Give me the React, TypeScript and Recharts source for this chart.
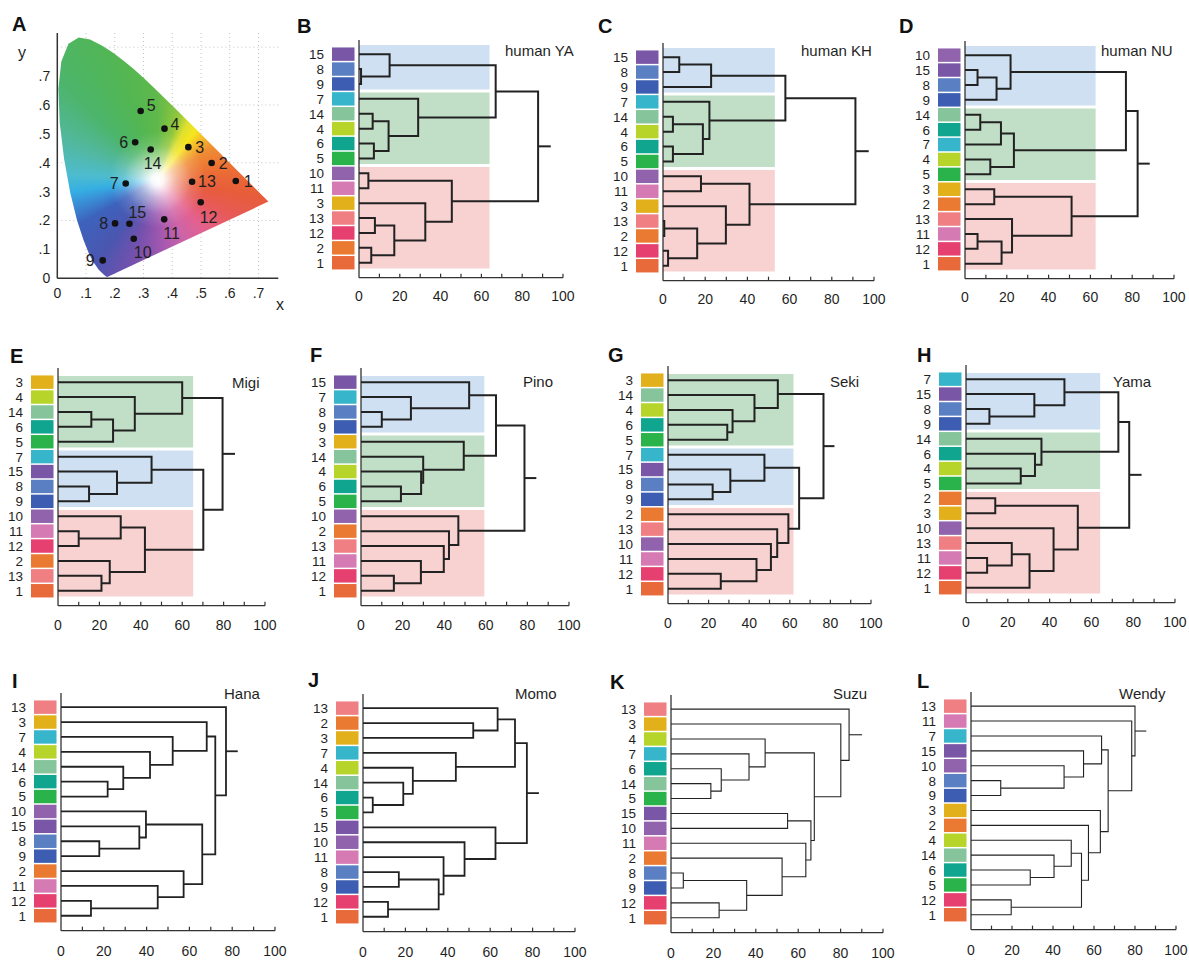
import React from "react";
import { ScatterChart, Scatter, XAxis, YAxis, CartesianGrid, ReferenceArea } from "recharts";

const FONT = "'Liberation Sans', Arial, Helvetica, sans-serif";
const INK = "#1f1f1f";

// stimuli 1..15: colour chips and CIE xy positions (panel A)
const stimIds = [1, 2, 3, 4, 5, 6, 7, 8, 9, 10, 11, 12, 13, 14, 15];
const stimColors = [
  "#e8693a", "#ea7a32", "#e2b01a", "#b7d42a", "#29b34a", "#10a58e", "#37b6cb", "#5a7fc3",
  "#3c5db1", "#9163ac", "#d57ab3", "#e5406f", "#ef7f82", "#86c59c", "#7a56a6",
];
const stimX = [0.621, 0.537, 0.456, 0.373, 0.29, 0.271, 0.238, 0.201, 0.158, 0.266, 0.372, 0.499, 0.469, 0.325, 0.251];
const stimY = [0.337, 0.399, 0.454, 0.518, 0.579, 0.471, 0.328, 0.19, 0.062, 0.137, 0.204, 0.263, 0.334, 0.446, 0.189];

// CIE 1931 spectral locus, 380-700 nm
const locusX = [
  0.1741, 0.1738, 0.1733, 0.1726, 0.1714, 0.1689, 0.1644, 0.1566, 0.144, 0.1241, 0.1096, 0.0913,
  0.0687, 0.0454, 0.0235, 0.0082, 0.0039, 0.0139, 0.0389, 0.0743, 0.1142, 0.1547, 0.1929, 0.2296,
  0.2658, 0.3016, 0.3373, 0.3731, 0.4087, 0.4441, 0.4788, 0.5125, 0.5448, 0.5752, 0.6029, 0.627,
  0.6482, 0.6658, 0.6801, 0.6915, 0.7006, 0.7079, 0.714, 0.719, 0.726, 0.73, 0.7347,
];
const locusY = [
  0.005, 0.0049, 0.0048, 0.0048, 0.0051, 0.0069, 0.0109, 0.0177, 0.0297, 0.0578, 0.0868, 0.1327,
  0.2007, 0.295, 0.4127, 0.5384, 0.6548, 0.7502, 0.812, 0.8338, 0.8262, 0.8059, 0.7816, 0.7543,
  0.7243, 0.6923, 0.6589, 0.6245, 0.5896, 0.5547, 0.5202, 0.4866, 0.4544, 0.4242, 0.3965, 0.3725,
  0.3514, 0.334, 0.3197, 0.3083, 0.2993, 0.292, 0.2859, 0.2809, 0.274, 0.27, 0.2653,
];
const whitePoint = { x: 0.35, y: 0.34 };

const chromaTicks = [0, 0.1, 0.2, 0.3, 0.4, 0.5, 0.6, 0.7];
const chromaGridH = [0.2, 0.4, 0.6, 0.8];
const distTicks = [0, 10, 20, 30, 40, 50, 60, 70, 80, 90, 100];

// dendrograms: leaf order top->bottom, merges [a, b, height] ("cN" = Nth merge), root stub end
type Node = number | string;
type Merge = [Node, Node, number];
type Band = [string, number, number];

const yaOrder = [15, 8, 9, 7, 14, 4, 6, 5, 10, 11, 3, 13, 12, 2, 1];
const yaMerges: Merge[] = [
  [8, 9, 1], [15, "c0", 15], [14, 4, 6.7], [6, 5, 7.3], ["c2", "c3", 14.5], [7, "c4", 29],
  ["c1", "c5", 67], [10, 11, 4.6], [13, 12, 7.8], [2, 1, 6], ["c8", "c9", 17.3], [3, "c10", 32.5],
  ["c7", "c11", 45.5], ["c6", "c12", 87.8],
];
const yaStub = 94;
const yaBands: Band[] = [["blue", 0, 2], ["green", 3, 7], ["red", 8, 14]];
const yaBandEnd = 64;

const khOrder = [15, 8, 9, 7, 14, 4, 6, 5, 10, 11, 3, 13, 2, 12, 1];
const khMerges: Merge[] = [
  [15, 8, 7.7], ["c0", 9, 22.8], [14, 4, 4.7], [6, 5, 4.7], ["c2", "c3", 18.9], [7, "c4", 22],
  ["c1", "c5", 58], [10, 11, 18], [13, 2, 0.6], [12, 1, 2.4], ["c8", "c9", 16.2], [3, "c10", 29.8],
  ["c7", "c11", 41], ["c6", "c12", 91.2],
];
const khStub = 97.5;
const khBands: Band[] = [["blue", 0, 2], ["green", 3, 7], ["red", 8, 14]];
const khBandEnd = 53;

const nuOrder = [10, 15, 8, 9, 14, 6, 7, 4, 5, 3, 2, 13, 11, 12, 1];
const nuMerges: Merge[] = [
  [15, 8, 6], ["c0", 9, 15.1], [10, "c1", 21.8], [14, 6, 7.3], ["c3", 7, 17.2], [4, 5, 12.1],
  ["c4", "c5", 23.4], ["c2", "c6", 77], [3, 2, 14], [11, 12, 6], ["c9", 1, 17.5], [13, "c10", 22.5],
  ["c8", "c11", 51], ["c7", "c12", 82.6],
];
const nuStub = 88.4;
const nuBands: Band[] = [["blue", 0, 3], ["green", 4, 8], ["red", 9, 14]];
const nuBandEnd = 62.5;

const migiOrder = [3, 4, 14, 6, 5, 7, 15, 8, 9, 10, 11, 12, 2, 13, 1];
const migiMerges: Merge[] = [
  [14, 6, 16.1], ["c0", 5, 26.6], [4, "c1", 37.1], [3, "c2", 60], [8, 9, 15], [15, "c4", 28.5],
  [7, "c5", 45.2], [11, 12, 10], [10, "c7", 30.3], [13, 1, 21], [2, "c9", 25], ["c8", "c10", 42],
  ["c6", "c11", 70.2], ["c3", "c12", 79.5],
];
const migiStub = 85.5;
const migiBands: Band[] = [["green", 0, 4], ["blue", 5, 8], ["red", 9, 14]];
const migiBandEnd = 65.3;

const pinoOrder = [15, 7, 8, 9, 3, 14, 4, 6, 5, 10, 2, 13, 11, 12, 1];
const pinoMerges: Merge[] = [
  [8, 9, 10], [7, "c0", 24], [15, "c1", 52], [6, 5, 19.2], [4, "c3", 28.9], [14, "c4", 29.9],
  [3, "c5", 49.4], ["c2", "c6", 64.9], [12, 1, 15.8], [11, "c8", 28.8], [13, "c9", 39.8],
  [2, "c10", 42.3], [10, "c11", 46.8], ["c7", "c12", 78.6],
];
const pinoStub = 84.3;
const pinoBands: Band[] = [["blue", 0, 3], ["green", 4, 8], ["red", 9, 14]];
const pinoBandEnd = 59.3;

const sekiOrder = [3, 14, 4, 6, 5, 7, 15, 8, 9, 2, 13, 10, 11, 12, 1];
const sekiMerges: Merge[] = [
  [6, 5, 29.2], [4, "c0", 31.8], [14, "c1", 42.6], [3, "c2", 54.1], [8, 9, 22], [15, "c4", 30.7],
  [7, "c5", 47.5], [12, 1, 26], [11, "c7", 43.6], [10, "c8", 50.7], [13, "c9", 53.8],
  [2, "c10", 59.3], ["c6", "c11", 64.6], ["c3", "c12", 76.6],
];
const sekiStub = 82;
const sekiBands: Band[] = [["green", 0, 4], ["blue", 5, 8], ["red", 9, 14]];
const sekiBandEnd = 61.8;

const yamaOrder = [7, 15, 8, 9, 14, 6, 4, 5, 2, 3, 10, 13, 11, 12, 1];
const yamaMerges: Merge[] = [
  [8, 9, 11.2], [15, "c0", 32.7], [7, "c1", 47.1], [4, 5, 26.2], [6, "c3", 33], [14, "c4", 36.1],
  ["c2", "c5", 72.9], [2, 3, 14], [11, 12, 10.1], [13, "c8", 21.9], ["c9", 1, 30.4],
  [10, "c10", 41.9], ["c7", "c11", 53.5], ["c6", "c12", 78.1],
];
const yamaStub = 84;
const yamaBands: Band[] = [["blue", 0, 3], ["green", 4, 7], ["red", 8, 14]];
const yamaBandEnd = 64.2;

const hanaOrder = [13, 3, 7, 4, 14, 6, 5, 10, 15, 8, 9, 2, 11, 12, 1];
const hanaMerges: Merge[] = [
  [6, 5, 21.8], [14, "c0", 29.1], [4, "c1", 41.6], [7, "c2", 52.2], [3, "c3", 68.1], [8, 9, 17.9],
  [15, "c5", 36.6], [10, "c6", 39.7], [12, 1, 14], [11, "c8", 45.2], [2, "c9", 57.3],
  ["c7", "c10", 66], ["c4", "c11", 72.1], [13, "c12", 77.1],
];
const hanaStub = 82.6;

const momoOrder = [13, 2, 3, 7, 4, 14, 6, 5, 15, 10, 11, 8, 9, 12, 1];
const momoMerges: Merge[] = [
  [2, 3, 52], [13, "c0", 63.5], [6, 5, 4.6], [14, "c2", 19], [4, "c3", 23.5], [7, "c4", 43.8],
  ["c1", "c5", 71.7], [8, 9, 16.9], [12, 1, 11.8], ["c7", "c8", 35.7], [11, "c9", 38],
  [10, "c10", 47.9], [15, "c11", 62.5], ["c6", "c12", 77.3],
];
const momoStub = 83;

const suzuOrder = [13, 3, 4, 7, 6, 14, 5, 15, 10, 11, 2, 8, 9, 12, 1];
const suzuMerges: Merge[] = [
  [14, 5, 18.8], [6, "c0", 23.7], [7, "c1", 36.8], [4, "c2", 44.4], [15, 10, 55], [8, 9, 5.8],
  [12, 1, 22.7], ["c5", "c6", 35.7], [2, "c7", 52.4], [11, "c8", 63.6], ["c4", "c9", 66],
  ["c3", "c10", 67.6], [3, "c11", 80.1], [13, "c12", 84],
];
const suzuStub = 90.1;

const wendyOrder = [13, 11, 7, 15, 10, 8, 9, 3, 2, 4, 14, 6, 5, 12, 1];
const wendyMerges: Merge[] = [
  [8, 9, 14.5], [10, "c0", 45.4], [15, "c1", 54.9], [7, "c2", 63.7], [6, 5, 28.9], [14, "c4", 40.5],
  [4, "c5", 48.9], [12, 1, 19.6], ["c6", "c7", 53.9], [2, "c8", 57.3], [3, "c9", 63.1],
  ["c3", "c10", 66.9], [11, "c11", 78.4], [13, "c12", 80],
];
const wendyStub = 85.5;

// ---- styles / layout ----
const bandFill: Record<string, string> = { blue: "#cfe0f2", green: "#c0dfc6", red: "#f8d1d1" };
const LEAF = 14.9;
const TOP_PAD = 0.95;
const Y_AXIS_W = 60;
const X_AXIS_H = 42;

const dendroPanels = [
  { order: yaOrder, merges: yaMerges, stub: yaStub, bands: yaBands, bandEnd: yaBandEnd, left: 359, top: 54, width: 204, lw: 2, labelDy: 18 },
  { order: khOrder, merges: khMerges, stub: khStub, bands: khBands, bandEnd: khBandEnd, left: 663, top: 57, width: 211, lw: 2, labelDy: 18 },
  { order: nuOrder, merges: nuMerges, stub: nuStub, bands: nuBands, bandEnd: nuBandEnd, left: 965, top: 55, width: 209, lw: 2, labelDy: 18 },
  { order: migiOrder, merges: migiMerges, stub: migiStub, bands: migiBands, bandEnd: migiBandEnd, left: 58, top: 382, width: 207, lw: 2, labelDy: 19 },
  { order: pinoOrder, merges: pinoMerges, stub: pinoStub, bands: pinoBands, bandEnd: pinoBandEnd, left: 361, top: 382, width: 208, lw: 2, labelDy: 19 },
  { order: sekiOrder, merges: sekiMerges, stub: sekiStub, bands: sekiBands, bandEnd: sekiBandEnd, left: 668, top: 380, width: 203, lw: 2, labelDy: 19 },
  { order: yamaOrder, merges: yamaMerges, stub: yamaStub, bands: yamaBands, bandEnd: yamaBandEnd, left: 966, top: 379, width: 209, lw: 2, labelDy: 19 },
  { order: hanaOrder, merges: hanaMerges, stub: hanaStub, bands: [] as Band[], bandEnd: 0, left: 61, top: 707, width: 214, lw: 1.8, labelDy: 20 },
  { order: momoOrder, merges: momoMerges, stub: momoStub, bands: [] as Band[], bandEnd: 0, left: 363, top: 708, width: 212, lw: 1.8, labelDy: 20 },
  { order: suzuOrder, merges: suzuMerges, stub: suzuStub, bands: [] as Band[], bandEnd: 0, left: 671, top: 709, width: 212, lw: 1.1, labelDy: 20 },
  { order: wendyOrder, merges: wendyMerges, stub: wendyStub, bands: [] as Band[], bandEnd: 0, left: 971, top: 706, width: 205, lw: 1.1, labelDy: 20 },
];

const panelTitles = [
  { t: "human YA", x: 505, y: 56 }, { t: "human KH", x: 801, y: 56 }, { t: "human NU", x: 1101, y: 56 },
  { t: "Migi", x: 232, y: 388 }, { t: "Pino", x: 523, y: 387 }, { t: "Seki", x: 830, y: 387 }, { t: "Yama", x: 1113, y: 387 },
  { t: "Hana", x: 224, y: 699 }, { t: "Momo", x: 515, y: 699 }, { t: "Suzu", x: 833, y: 699 }, { t: "Wendy", x: 1119, y: 699 },
];
const panelLetters = [
  { t: "A", x: 12, y: 31 }, { t: "B", x: 297, y: 33 }, { t: "C", x: 598, y: 33 }, { t: "D", x: 899, y: 33 },
  { t: "E", x: 10, y: 363 }, { t: "F", x: 310, y: 362 }, { t: "G", x: 608, y: 362 }, { t: "H", x: 917, y: 362 },
  { t: "I", x: 12, y: 688 }, { t: "J", x: 308, y: 687 }, { t: "K", x: 610, y: 689 }, { t: "L", x: 917, y: 688 },
];

// label offsets for the stimulus dots: [dx, dy, anchor]
const stimLabelPos: Record<number, [number, number, string]> = {
  1: [8, 0, "start"], 2: [7, 0, "start"], 3: [7, 0, "start"], 4: [6, -4, "start"], 5: [6, -6, "start"],
  6: [-7, 0, "end"], 7: [-7, 0, "end"], 8: [-7, 0, "end"], 9: [-8, 0, "end"], 10: [0, 14, "start"],
  11: [-1, 14, "start"], 12: [-1, 15, "start"], 13: [6, 0, "start"], 14: [-7, 14, "start"], 15: [-1, -11, "start"],
};

const gamutStops = [
  [0, "#5fb94a"], [18, "#92c73e"], [28, "#dfe02e"], [38, "#f6e61e"], [48, "#f3b82a"], [60, "#ef8c33"],
  [80, "#ec7034"], [100, "#e75c3b"], [118, "#e75a5c"], [136, "#e4618e"], [156, "#cd64a8"],
  [176, "#a358b0"], [196, "#7651ad"], [216, "#4b56b0"], [240, "#3d62bc"], [252, "#3a8ad4"],
  [262, "#35aee3"], [273, "#4dbccf"], [292, "#52b8a2"], [316, "#4cb56b"], [340, "#52b653"], [360, "#5fb94a"],
]
  .map(([a, c]) => `${c} ${a}deg`)
  .join(", ");

function buildTree(order: number[], merges: Merge[]) {
  const pos: Record<string, { y: number; h: number }> = {};
  order.forEach((leaf, i) => (pos[String(leaf)] = { y: i, h: 0 }));
  const links = merges.map(([a, b, h], k) => {
    const A = pos[String(a)];
    const B = pos[String(b)];
    pos["c" + k] = { y: (A.y + B.y) / 2, h };
    return [
      { x: A.h, y: A.y },
      { x: h, y: A.y },
      { x: h, y: B.y },
      { x: B.h, y: B.y },
    ];
  });
  return { links, root: pos["c" + (merges.length - 1)] };
}

const noDot = () => <g />;

const DistTick = (props: any) => {
  const { x, y, payload, labelDy } = props;
  const v = payload.value;
  return (
    <g>
      {v > 0 && <line x1={x} x2={x} y1={y} y2={y - 4} stroke="#333" strokeWidth={1.2} />}
      {v % 20 === 0 && (
        <text x={x} y={y + labelDy + 5} textAnchor="middle" fontSize={14} fill={INK}>
          {v}
        </text>
      )}
    </g>
  );
};

const LeafTick = (props: any) => {
  const { x, y, payload, order } = props;
  const leaf = order[payload.value];
  return (
    <g>
      <rect x={x - 27} y={y - 6.7} width={22.5} height={13.4} fill={stimColors[leaf - 1]} />
      <text x={x - 35} y={y + 4.9} textAnchor="end" fontSize={13.5} fill={INK}>
        {leaf}
      </text>
    </g>
  );
};

function Dendro({ p }: { p: (typeof dendroPanels)[number] }) {
  const { links, root } = buildTree(p.order, p.merges);
  const plotH = (15 + TOP_PAD) * LEAF;
  const right = 14;
  const leafTicks = p.order.map((_, i) => i);
  return (
    <div style={{ position: "absolute", left: p.left - Y_AXIS_W, top: p.top - TOP_PAD * LEAF }}>
      <ScatterChart width={Y_AXIS_W + p.width + right} height={plotH + X_AXIS_H} margin={{ top: 0, right, bottom: 0, left: 0 }}>
        <XAxis
          type="number"
          dataKey="x"
          domain={[0, 100]}
          ticks={distTicks}
          interval={0}
          height={X_AXIS_H}
          tickSize={0}
          tickMargin={0}
          tickLine={false}
          axisLine={{ stroke: "#333", strokeWidth: 1.3 }}
          tick={(t: any) => <DistTick {...t} labelDy={p.labelDy} />}
        />
        <YAxis
          type="number"
          dataKey="y"
          domain={[-TOP_PAD, 15]}
          reversed
          ticks={leafTicks}
          interval={0}
          width={Y_AXIS_W}
          tickSize={0}
          tickMargin={0}
          tickLine={false}
          axisLine={{ stroke: "#333", strokeWidth: 1.3 }}
          tick={(t: any) => <LeafTick {...t} order={p.order} />}
        />
        {p.bands.map(([kind, a, b], i) => (
          <ReferenceArea
            key={"band" + i}
            x1={0}
            x2={p.bandEnd}
            y1={a - (a === 0 && p.top < 100 ? 0.62 : 0.42)}
            y2={b + 0.38}
            fill={bandFill[kind]}
            fillOpacity={1}
            stroke="none"
          />
        ))}
        {links.map((pts, i) => (
          <Scatter
            key={"l" + i}
            data={pts}
            line={{ stroke: "#222", strokeWidth: p.lw }}
            lineType="joint"
            shape={noDot}
            isAnimationActive={false}
          />
        ))}
        <Scatter
          data={[{ x: root.h, y: root.y }, { x: p.stub, y: root.y }]}
          line={{ stroke: "#222", strokeWidth: p.lw }}
          lineType="joint"
          shape={noDot}
          isAnimationActive={false}
        />
      </ScatterChart>
    </div>
  );
}

const renderGamut = (props: any) => {
  const pts: { x: number; y: number }[] = props.points;
  const n = pts.length - 1;
  const loc = pts.slice(0, n);
  const c = pts[n];
  const d = "M" + loc.map((q) => q.x.toFixed(1) + "," + q.y.toFixed(1)).join("L") + "Z";
  const xs = loc.map((q) => q.x);
  const ys = loc.map((q) => q.y);
  const x0 = Math.min(...xs) - 2;
  const y0 = Math.min(...ys) - 2;
  const w = Math.max(...xs) - x0 + 2;
  const h = Math.max(...ys) - y0 + 2;
  const cx = c.x - x0;
  const cy = c.y - y0;
  const bg =
    `radial-gradient(circle at ${cx}px ${cy}px, #fff 0px, rgba(255,255,255,0.95) 6px, rgba(255,255,255,0.55) 18px, rgba(255,255,255,0.15) 34px, rgba(255,255,255,0) 48px), ` +
    `conic-gradient(from 0deg at ${cx}px ${cy}px, ${gamutStops})`;
  return (
    <g>
      <defs>
        <clipPath id="gamut-clip">
          <path d={d} />
        </clipPath>
      </defs>
      <g clipPath="url(#gamut-clip)">
        <foreignObject x={x0} y={y0} width={w} height={h}>
          <div style={{ width: "100%", height: "100%", background: bg }} />
        </foreignObject>
      </g>
    </g>
  );
};

const renderStim = (props: any) => {
  const { cx, cy, payload } = props;
  const [dx, dy, anchor] = stimLabelPos[payload.id];
  return (
    <g>
      <circle cx={cx} cy={cy} r={3.3} fill="#111" />
      <text x={cx + dx} y={cy + dy + 5.7} textAnchor={anchor as any} fontSize={16} fill={INK}>
        {payload.id}
      </text>
    </g>
  );
};

const chromaFmt = (v: number) => (v === 0 ? "0" : "." + Math.round(v * 10));

function Chromaticity() {
  const locusData = locusX.map((x, i) => ({ x, y: locusY[i] })).concat([whitePoint]);
  const stimData = stimIds.map((id, i) => ({ id, x: stimX[i], y: stimY[i] }));
  return (
    <div style={{ position: "absolute", left: 0, top: 0 }}>
      <ScatterChart width={300} height={320} margin={{ top: 33, right: 21.7, bottom: 11.7, left: 17.3 }}>
        <CartesianGrid
          strokeDasharray="1 3"
          stroke="#c4c4c4"
          horizontalValues={chromaGridH}
          verticalValues={chromaTicks.slice(1)}
        />
        <XAxis
          type="number"
          dataKey="x"
          domain={[0, 0.769]}
          ticks={chromaTicks}
          interval={0}
          tickFormatter={chromaFmt}
          tickLine={false}
          tickSize={0}
          tickMargin={10}
          height={30}
          axisLine={{ stroke: "#333", strokeWidth: 1.5 }}
          tick={{ fontSize: 14, fill: INK }}
        />
        <YAxis
          type="number"
          dataKey="y"
          domain={[0, 0.849]}
          ticks={chromaTicks}
          interval={0}
          tickFormatter={chromaFmt}
          tickLine={false}
          tickSize={0}
          tickMargin={7}
          width={40}
          axisLine={{ stroke: "#333", strokeWidth: 1.5 }}
          tick={{ fontSize: 14, fill: INK }}
        />
        <Scatter data={locusData} line={renderGamut} lineType="joint" shape={noDot} isAnimationActive={false} />
        <Scatter data={stimData} shape={renderStim} isAnimationActive={false} />
      </ScatterChart>
    </div>
  );
}

export default function App() {
  return (
    <div
      style={{
        position: "absolute",
        left: 0,
        top: 0,
        width: 1189,
        height: 962,
        overflow: "hidden",
        background: "#fff",
        fontFamily: FONT,
      }}
    >
      <Chromaticity />
      {dendroPanels.map((p, i) => (
        <Dendro key={i} p={p} />
      ))}
      <svg width={1189} height={962} style={{ position: "absolute", left: 0, top: 0, pointerEvents: "none" }}>
        {panelTitles.map((t) => (
          <text key={t.t} x={t.x} y={t.y} fontSize={15} fill={INK}>
            {t.t}
          </text>
        ))}
        {panelLetters.map((t) => (
          <text key={t.t} x={t.x} y={t.y} fontSize={20} fontWeight="bold" fill="#111">
            {t.t}
          </text>
        ))}
        <text x={18} y={58} fontSize={16} fill={INK}>y</text>
        <text x={276} y={310} fontSize={16} fill={INK}>x</text>
      </svg>
    </div>
  );
}
